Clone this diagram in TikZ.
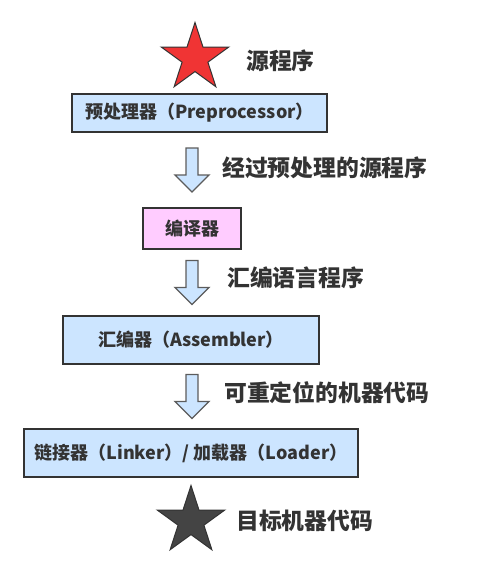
\documentclass[tikz,border=0pt]{standalone}
\usepackage{fontspec}
\newfontfamily\cjk{Noto Sans CJK SC}
\usetikzlibrary{shapes.geometric,calc}
\definecolor{boxblue}{HTML}{CCE5FF}
\definecolor{boxpink}{HTML}{FFCCFF}
\definecolor{starred}{HTML}{F03434}
\definecolor{stardark}{HTML}{444444}
\definecolor{ink}{HTML}{333333}
\begin{document}
\begin{tikzpicture}[x=1pt,y=-1pt,
  box/.style={draw=ink,line width=1.6pt,inner sep=0pt,text=ink,
    font=\cjk\bfseries\fontsize{18}{20}\selectfont},
  lbl/.style={anchor=west,inner sep=0pt,text=ink,
    font=\cjk\bfseries\fontsize{22.8}{26}\selectfont},
  bigstar/.style={star,star points=5,star point ratio=2.618,minimum size=71pt,
    inner sep=0pt,draw=ink,line width=1pt},
  hollow/.style={draw=ink!80,line width=1.3pt,fill=boxblue,line join=miter}]
\useasboundingbox (0,0) rectangle (494,576);
% the two ends
\node[bigstar,fill=starred] (src) at (195,58) {};
\node[lbl] (srclbl) at (246,61) {源程序};
% the stages
\node[box,fill=boxblue,minimum width=255pt,minimum height=38pt] (pre) at (199.5,113) {预处理器（Preprocessor）};
\node[box,fill=boxpink,minimum width=98pt,minimum height=41pt] (cc) at (192,228.5) {编译器};
\node[box,fill=boxblue,minimum width=256pt,minimum height=48pt] (asm) at (191,340) {汇编器（Assembler）};
\node[box,fill=boxblue,minimum width=334pt,minimum height=48pt] (ld) at (191,453) {链接器（Linker）/ 加载器（Loader）};
\node[bigstar,fill=stardark] (tgt) at (191,521) {};
\node[lbl] (tgtlbl) at (236,521) {目标机器代码};
% hollow arrows between the stages
\foreach \a/\b/\n in {pre/cc/a1,cc/asm/a2,asm/ld/a3}{
  \coordinate (m) at ($(\a.south)!0.5!(\b.north)$);
  \coordinate (\n) at (cc.center |- m);
  \draw[hollow] ($(\n)+(-6,-22)$) -- ($(\n)+(6,-22)$) -- ($(\n)+(6,5)$)
    -- ($(\n)+(17,5)$) -- ($(\n)+(0,22)$) -- ($(\n)+(-17,5)$)
    -- ($(\n)+(-6,5)$) -- cycle;
}
\node[lbl] (l1) at (222,168) {经过预处理的源程序};
\node[lbl] (l2) at (227,278) {汇编语言程序};
\node[lbl] (l3) at (224,393) {可重定位的机器代码};
\end{tikzpicture}
\end{document}
